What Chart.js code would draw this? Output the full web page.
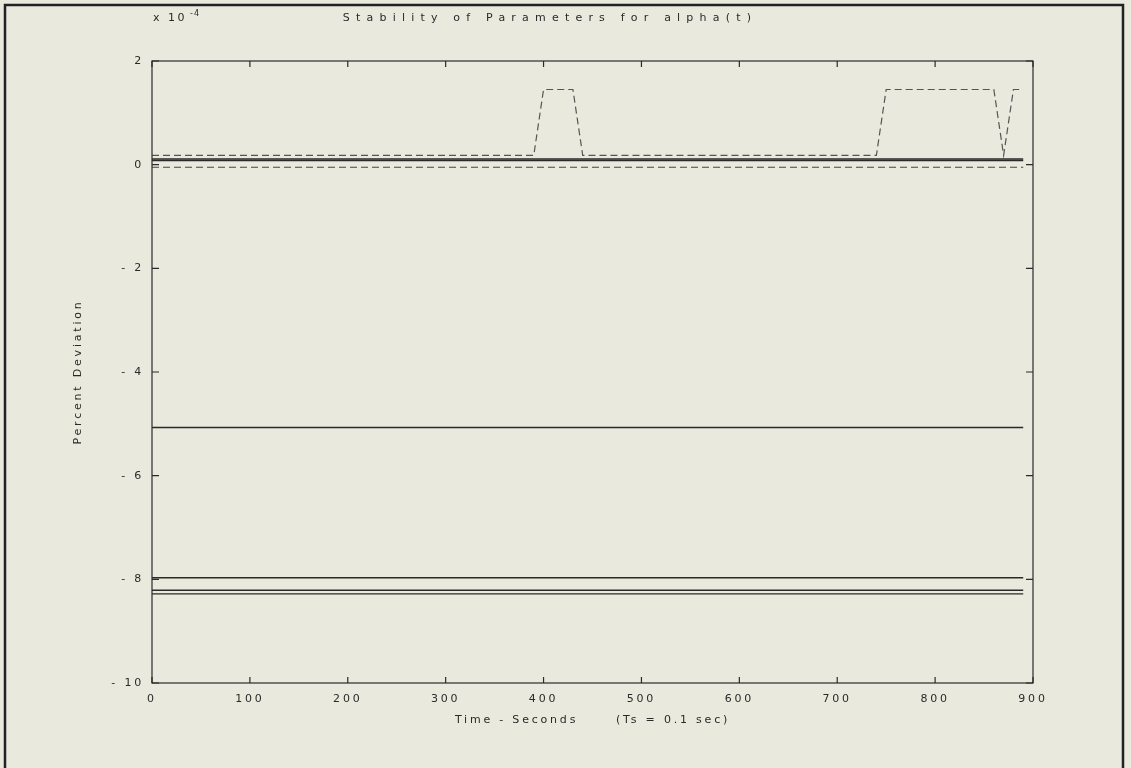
<!DOCTYPE html>
<html>
<head>
<meta charset="utf-8">
<script src="https://cdn.jsdelivr.net/npm/chart.js@4"></script>
<style>
  html, body { margin: 0; padding: 0; background: #eae9de; }
  #wrap { position: relative; width: 1131px; height: 768px; }
</style>
</head>
<body>
<div id="wrap"><canvas id="myChart" width="1131" height="768"></canvas></div>
<script>
// values are in units of 1e-4 (percent deviation)
const timeSec = [0, 390, 400, 430, 440, 740, 750, 860, 870, 880, 890];
const upperDashed = [0.18, 0.18, 1.45, 1.45, 0.18, 0.18, 1.45, 1.45, 0.18, 1.45, 1.45];
const lowerDashed = [-0.05, -0.05, -0.05, -0.05, -0.05, -0.05, -0.05, -0.05, -0.05, -0.05, -0.05];
const flatEnds = [0, 890];
const solidLevels = [0.11, 0.08, -5.07, -7.97, -8.21, -8.28];

const xTicks = [0, 100, 200, 300, 400, 500, 600, 700, 800, 900];
const yTicks = [2, 0, -2, -4, -6, -8, -10];

const fontFam = '"DejaVu Sans", "Liberation Sans", sans-serif';
const ink = '#2a2a2a';

const toPts = (xs, ys) => xs.map((x, i) => ({x: x, y: ys[i]}));

const datasets = [];
datasets.push({
  label: 'upper dashed',
  data: toPts(timeSec, upperDashed),
  borderColor: '#555',
  borderWidth: 1.2,
  borderDash: [7, 4]
});
datasets.push({
  label: 'lower dashed',
  data: toPts(timeSec, lowerDashed),
  borderColor: '#444',
  borderWidth: 1.2,
  borderDash: [7, 4]
});
solidLevels.forEach((v, i) => {
  datasets.push({
    label: 'solid ' + i,
    data: toPts(flatEnds, [v, v]),
    borderColor: ink,
    borderWidth: 1.4
  });
});

// frame, inward ticks, title text and exponent label
const decor = {
  id: 'decor',
  beforeDraw(chart) {
    chart.ctx.letterSpacing = '2.8px';
  },
  afterDraw(chart) {
    const ctx = chart.ctx;
    const a = chart.chartArea;
    const xs = chart.scales.x, ys = chart.scales.y;
    ctx.save();
    ctx.strokeStyle = ink;
    ctx.lineWidth = 1.2;
    ctx.strokeRect(a.left, a.top, a.right - a.left, a.bottom - a.top);
    ctx.beginPath();
    xTicks.forEach(t => {
      const px = xs.getPixelForValue(t);
      ctx.moveTo(px, a.bottom); ctx.lineTo(px, a.bottom - 6);
      ctx.moveTo(px, a.top); ctx.lineTo(px, a.top + 6);
    });
    yTicks.forEach(t => {
      const py = ys.getPixelForValue(t);
      ctx.moveTo(a.left, py); ctx.lineTo(a.left + 7, py);
      ctx.moveTo(a.right, py); ctx.lineTo(a.right - 7, py);
    });
    ctx.stroke();

    // outer picture frame (bottom edge is cut off)
    ctx.lineWidth = 2.5;
    ctx.strokeStyle = '#222';
    ctx.beginPath();
    ctx.moveTo(5, 768); ctx.lineTo(5, 5); ctx.lineTo(1123, 5); ctx.lineTo(1123, 768);
    ctx.stroke();

    ctx.fillStyle = ink;
    ctx.textBaseline = 'middle';
    ctx.font = '11px ' + fontFam;
    ctx.letterSpacing = '6.2px';
    ctx.textAlign = 'center';
    ctx.fillText('Stability of Parameters for alpha(t)', 550, 18);
    ctx.textAlign = 'left';
    ctx.letterSpacing = '2.5px';
    ctx.fillText('x 10', a.left + 1, 18);
    ctx.font = '8px ' + fontFam;
    ctx.letterSpacing = '1px';
    ctx.fillText('-4', a.left + 38, 14);
    ctx.restore();
  }
};

const ctx = document.getElementById('myChart').getContext('2d');
const myChart = new Chart(ctx, {
  type: 'line',
  data: { datasets: datasets },
  options: {
    responsive: false,
    animation: false,
    elements: { point: { radius: 0 }, line: { tension: 0 } },
    layout: { padding: { left: 70, right: 98, top: 61, bottom: 0 } },
    scales: {
      x: {
        type: 'linear',
        min: 0,
        max: 900,
        afterFit: s => { s.height = 85; },
        afterBuildTicks: s => { s.ticks = xTicks.map(v => ({value: v})); },
        grid: { display: false, drawTicks: false },
        border: { display: false },
        ticks: { color: ink, padding: 10, font: { family: fontFam, size: 11 } },
        title: {
          display: true,
          text: 'Time - Seconds      (Ts = 0.1 sec)',
          color: ink,
          font: { family: fontFam, size: 11 },
          padding: { top: 0, bottom: 41 }
        }
      },
      y: {
        type: 'linear',
        min: -10,
        max: 2,
        afterFit: s => { s.width = 82; },
        afterBuildTicks: s => { s.ticks = yTicks.map(v => ({value: v})); },
        grid: { display: false, drawTicks: false },
        border: { display: false },
        ticks: {
          color: ink,
          padding: 8,
          font: { family: fontFam, size: 11 },
          callback: v => (v < 0 ? '- ' + Math.abs(v) : String(v))
        },
        title: {
          display: true,
          text: 'Percent Deviation',
          color: ink,
          font: { family: fontFam, size: 11 },
          padding: { top: 2, bottom: 0 }
        }
      }
    },
    plugins: {
      legend: { display: false },
      tooltip: { enabled: false },
      title: { display: false }
    }
  },
  plugins: [decor]
});
</script>
</body>
</html>
